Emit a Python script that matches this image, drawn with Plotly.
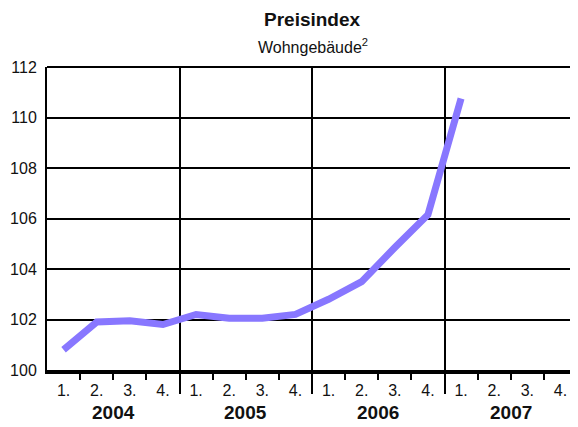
import plotly.graph_objects as go

years = ["2004", "2005", "2006", "2007"]
quarters = ["1.", "2.", "3.", "4."]
values = [100.8, 101.9, 101.95, 101.8, 102.2, 102.05, 102.05, 102.2,
          102.8, 103.5, 104.85, 106.15, 110.75]
y_ticks = [100, 102, 104, 106, 108, 110, 112]
title = "Preisindex"
subtitle = "Wohngebäude<sup>2</sup>"

FONT = "Liberation Sans, Arial, sans-serif"

n_q = len(years) * len(quarters)
x_pos = list(range(n_q))
q_labels = [q for _ in years for q in quarters]
q_bounds = [i + 0.5 for i in range(n_q) if (i + 1) % 4 != 0]
y_bounds = [i + 0.5 for i in range(n_q) if (i + 1) % 4 == 0]
xr = [-0.5, n_q - 0.5]

fig = go.Figure()
fig.add_trace(go.Scatter(
    x=x_pos[:len(values)], y=values, mode="lines",
    line=dict(color="#8877ff", width=7), hoverinfo="skip", showlegend=False))
# invisible helper traces so the tick-only overlay axes get drawn
fig.add_trace(go.Scatter(x=q_bounds, y=[y_ticks[0]] * len(q_bounds), xaxis="x2",
                         mode="markers", marker=dict(opacity=0), hoverinfo="skip",
                         showlegend=False))
fig.add_trace(go.Scatter(x=y_bounds, y=[y_ticks[0]] * len(y_bounds), xaxis="x3",
                         mode="markers", marker=dict(opacity=0), hoverinfo="skip",
                         showlegend=False))

# page body has an 8px margin, so the figure is 8px smaller and margins shifted
fig.update_layout(
    width=570, height=419,
    margin=dict(l=39, r=1, t=59, b=57),
    paper_bgcolor="white", plot_bgcolor="white",
    font=dict(family=FONT, color="#111"),
    xaxis=dict(range=xr, tickvals=x_pos, ticktext=q_labels, ticks="",
               showgrid=False, zeroline=False, showline=True,
               linecolor="black", linewidth=3.5, automargin=False,
               tickfont=dict(size=16, family=FONT), ticklabelstandoff=3),
    xaxis2=dict(range=xr, overlaying="x", anchor="y", side="bottom",
                tickvals=q_bounds, ticks="outside", ticklen=9, tickwidth=1.5,
                tickcolor="black", showticklabels=False, showgrid=False,
                zeroline=False, showline=False, automargin=False),
    xaxis3=dict(range=xr, overlaying="x", anchor="y", side="bottom",
                tickvals=y_bounds, ticks="outside", ticklen=23, tickwidth=2,
                tickcolor="black", showticklabels=False, showgrid=True,
                gridcolor="black", gridwidth=2, zeroline=False, showline=False,
                automargin=False),
    yaxis=dict(range=[100, 112], tickvals=y_ticks, ticks="",
               showgrid=True, gridcolor="black", gridwidth=1.5,
               zeroline=False, showline=True, linecolor="black",
               linewidth=2, mirror=True, automargin=False,
               tickfont=dict(size=16, family=FONT), ticklabelstandoff=5),
)

fig.add_shape(type="line", xref="paper", yref="paper", x0=0, x1=1, y0=1, y1=1,
              line=dict(color="black", width=2))

for k, yr in enumerate(years):
    fig.add_annotation(x=4 * k + 1.5, xref="x", y=-0.140, yref="paper",
                       text="<b>" + yr + "</b>", showarrow=False,
                       yanchor="middle", font=dict(size=19, family=FONT, color="#111"))

fig.add_annotation(x=0.501, xref="paper", y=1.1947, yref="paper",
                   text="<b>" + title + "</b>", showarrow=False, yanchor="top",
                   borderpad=0,
                   font=dict(size=19, family=FONT, color="#111"))
fig.add_annotation(x=0.501, xref="paper", y=1.069, yref="paper",
                   text=subtitle, showarrow=False, yanchor="middle",
                   font=dict(size=16, family=FONT, color="#111"))

fig.write_html("out.html")
